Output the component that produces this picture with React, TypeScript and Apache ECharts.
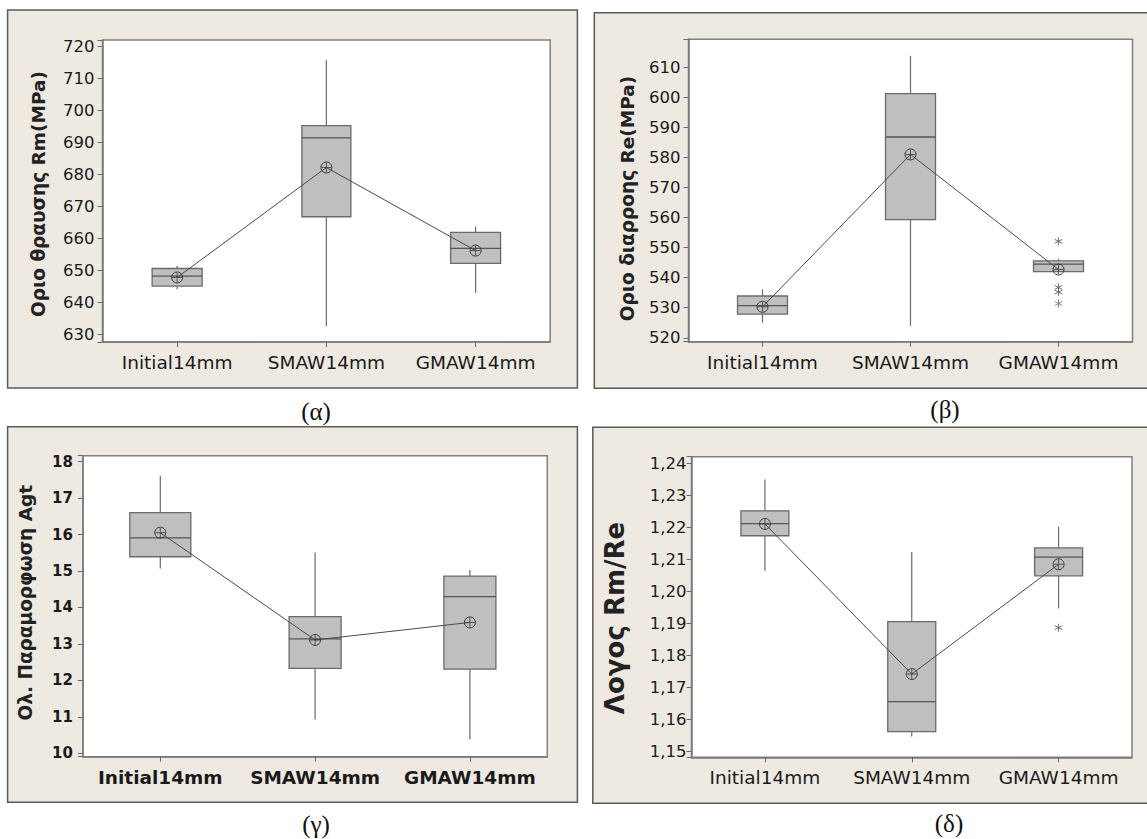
import React, { useEffect, useRef } from 'react';
import * as echarts from 'echarts';

// ---------- data ----------
const categories = ['Initial14mm', 'SMAW14mm', 'GMAW14mm'];

// box entries: [lower whisker, Q1, median, Q3, upper whisker]
const rmBoxes = [
  [644.1, 645.1, 648.2, 650.6, 651.4],
  [632.6, 666.8, 691.5, 695.3, 715.8],
  [643.0, 652.2, 656.9, 661.9, 663.7],
];
const rmMeans = [647.8, 682.2, 656.2];
const rmOutliers: number[][] = [];

const reBoxes = [
  [525.0, 527.9, 530.7, 533.9, 536.1],
  [524.0, 559.3, 586.8, 601.2, 613.8],
  [542.0, 542.0, 544.5, 545.6, 546.3],
];
const reMeans = [530.3, 581.0, 542.7];
// [category index, value]
const reOutliers = [
  [2, 552.1],
  [2, 536.8],
  [2, 535.2],
  [2, 531.4],
];

const agtBoxes = [
  [15.07, 15.39, 15.91, 16.6, 17.61],
  [10.93, 12.33, 13.14, 13.75, 15.51],
  [10.39, 12.31, 14.3, 14.86, 15.03],
];
const agtMeans = [16.05, 13.11, 13.59];
const agtOutliers: number[][] = [];

const ratioBoxes = [
  [1.2065, 1.2174, 1.2212, 1.2252, 1.235],
  [1.1547, 1.1562, 1.1656, 1.1906, 1.2123],
  [1.1947, 1.2049, 1.2107, 1.2136, 1.2202],
];
const ratioMeans = [1.2211, 1.1742, 1.2085];
const ratioOutliers = [[2, 1.1887]];

// axis scales
const rmAxis = { min: 627.6, max: 722.1, step: 10, decimals: 0 };
const reAxis = { min: 518.7, max: 619.3, step: 10, decimals: 0 };
const agtAxis = { min: 9.91, max: 18.16, step: 1, decimals: 0 };
const ratioAxis = { min: 1.1482, max: 1.2421, step: 0.01, decimals: 2 };

const yNames = ['Οριο θραυσης Rm(MPa)', 'Οριο διαρροης Re(MPa)', 'Ολ. Παραμορφωση Agt', 'Λογος Rm/Re'];
const captions = ['(α)', '(β)', '(γ)', '(δ)'];

// ---------- layout / style ----------
const FONT = '"DejaVu Sans", Verdana, sans-serif';
const BG = '#EEEAE1';

const panels = [
  {
    boxes: rmBoxes, means: rmMeans, outliers: rmOutliers, axis: rmAxis, name: yNames[0], caption: captions[0],
    grid: { left: 102.5, top: 40, width: 447.7, height: 302 },
    frame: { x: 7.6, y: 10, width: 569.8, height: 378 },
    cap: { x: 316, y: 411 },
    boxW: [50, 49, 50], bold: false, nameSize: 18.5, nameGap: 55, namePad: [0, 6, 0, 0],
    tickSize: 16.5, catSize: 18.5, yMargin: 8,
  },
  {
    boxes: reBoxes, means: reMeans, outliers: reOutliers, axis: reAxis, name: yNames[1], caption: captions[1],
    grid: { left: 688.5, top: 39.3, width: 444, height: 302.4 },
    frame: { x: 594.3, y: 12.7, width: 600, height: 375.6 },
    cap: { x: 945, y: 409 },
    boxW: [50, 50, 50], bold: false, nameSize: 18.5, nameGap: 52, namePad: [0, 16, 0, 0],
    tickSize: 16.5, catSize: 18.5, yMargin: 8,
  },
  {
    boxes: agtBoxes, means: agtMeans, outliers: agtOutliers, axis: agtAxis, name: yNames[2], caption: captions[2],
    grid: { left: 82.9, top: 455.7, width: 464.4, height: 301 },
    frame: { x: 7.6, y: 426.7, width: 569.8, height: 375.6 },
    cap: { x: 316, y: 824 },
    boxW: [61, 52, 52], bold: true, nameSize: 18.5, nameGap: 48, namePad: [0, 0, 0, 7],
    tickSize: 15, catSize: 18.5, yMargin: 10,
  },
  {
    boxes: ratioBoxes, means: ratioMeans, outliers: ratioOutliers, axis: ratioAxis, name: yNames[3], caption: captions[3],
    grid: { left: 691.5, top: 456.7, width: 440.5, height: 300.6 },
    frame: { x: 592.8, y: 427.3, width: 600, height: 376 },
    cap: { x: 949, y: 823 },
    boxW: [48, 48, 48], bold: false, nameSize: 26, nameGap: 64, namePad: [0, 22, 0, 0],
    tickSize: 16.5, catSize: 18.5, yMargin: 5,
  },
];

const PLUS = 'path://M-0.5,-5L0.5,-5L0.5,5L-0.5,5Z M-5,-0.5L5,-0.5L5,0.5L-5,0.5Z';
const STAR =
  'path://M-0.5,-5L0.5,-5L0.5,5L-0.5,5Z M4.08,-2.933L4.58,-2.067L-4.08,2.933L-4.58,2.067Z M-4.58,-2.067L-4.08,-2.933L4.58,2.067L4.08,2.933Z';

function buildOption() {
  const grid: any[] = [];
  const xAxis: any[] = [];
  const yAxis: any[] = [];
  const series: any[] = [];
  const graphic: any[] = [];

  panels.forEach((p, i) => {
    graphic.push({
      type: 'rect',
      z: -10,
      shape: { ...p.frame },
      style: { fill: BG, stroke: '#5a5a5a', lineWidth: 1.5 },
    });
    graphic.push({
      type: 'text',
      z: -10,
      x: p.cap.x,
      y: p.cap.y,
      style: {
        text: p.caption,
        fontFamily: '"Liberation Serif", "Times New Roman", serif',
        fontSize: 25,
        fill: '#111',
        align: 'center',
        verticalAlign: 'middle',
      },
    });

    grid.push({
      ...p.grid,
      show: true,
      backgroundColor: '#ffffff',
      borderColor: '#808080',
      borderWidth: 1.5,
    });

    xAxis.push({
      type: 'category',
      gridIndex: i,
      data: categories,
      boundaryGap: true,
      axisLine: { show: true, lineStyle: { color: '#7a7a7a', width: 1.5 } },
      axisTick: { show: true, alignWithLabel: true, interval: 0, length: 5, lineStyle: { color: '#6a6a6a' } },
      axisLabel: {
        interval: 0,
        margin: 11,
        fontFamily: FONT,
        fontSize: p.catSize,
        fontWeight: p.bold ? 'bold' : 'normal',
        color: '#1a1a1a',
      },
      splitLine: { show: false },
    });

    const ax = p.axis;
    yAxis.push({
      type: 'value',
      gridIndex: i,
      min: ax.min,
      max: ax.max,
      minInterval: ax.step,
      maxInterval: ax.step,
      splitNumber: 10,
      name: p.name,
      nameLocation: 'middle',
      nameGap: p.nameGap,
      nameTextStyle: {
        fontFamily: FONT,
        fontWeight: 'bold',
        fontSize: p.nameSize,
        color: '#222',
        padding: p.namePad,
      },
      axisLine: { show: true, lineStyle: { color: '#7a7a7a', width: 1.5 } },
      axisTick: { show: true, length: 5, lineStyle: { color: '#6a6a6a' } },
      axisLabel: {
        margin: p.yMargin,
        showMinLabel: true,
        showMaxLabel: true,
        fontFamily: FONT,
        fontSize: p.tickSize,
        fontWeight: p.bold ? 'bold' : 'normal',
        color: '#1a1a1a',
        formatter: (v: number) => {
          const k = v / ax.step;
          if (Math.abs(k - Math.round(k)) > 1e-6) return '';
          return v.toFixed(ax.decimals).replace('.', ',');
        },
      },
      splitLine: { show: false },
    });

    const boxW = p.boxW;
    series.push({
      type: 'custom',
      xAxisIndex: i,
      yAxisIndex: i,
      silent: true,
      z: 2,
      encode: { x: 0, y: [1, 2, 3, 4, 5] },
      data: p.boxes.map((b, j) => [j, ...b]),
      renderItem: (params: any, api: any) => {
        const idx = api.value(0);
        const pLow = api.coord([idx, api.value(1)]);
        const pQ1 = api.coord([idx, api.value(2)]);
        const pMed = api.coord([idx, api.value(3)]);
        const pQ3 = api.coord([idx, api.value(4)]);
        const pHigh = api.coord([idx, api.value(5)]);
        const cx = pMed[0];
        const w = boxW[idx];
        const lineStyle = { stroke: '#6a6a6a', lineWidth: 1.2 };
        return {
          type: 'group',
          children: [
            { type: 'line', shape: { x1: cx, y1: pQ1[1], x2: cx, y2: pLow[1] }, style: lineStyle },
            { type: 'line', shape: { x1: cx, y1: pQ3[1], x2: cx, y2: pHigh[1] }, style: lineStyle },
            {
              type: 'rect',
              shape: { x: cx - w / 2, y: pQ3[1], width: w, height: pQ1[1] - pQ3[1] },
              style: { fill: '#bfbfbf', stroke: '#6a6a6a', lineWidth: 1.3 },
            },
            {
              type: 'line',
              shape: { x1: cx - w / 2, y1: pMed[1], x2: cx + w / 2, y2: pMed[1] },
              style: { stroke: '#555', lineWidth: 1.3 },
            },
          ],
        };
      },
    });

    series.push({
      type: 'line',
      xAxisIndex: i,
      yAxisIndex: i,
      silent: true,
      z: 3,
      data: p.means,
      symbol: 'circle',
      symbolSize: 11,
      showSymbol: true,
      itemStyle: { color: 'rgba(0,0,0,0)', borderColor: '#3a3a3a', borderWidth: 1 },
      lineStyle: { color: '#4a4a4a', width: 1 },
    });

    series.push({
      type: 'scatter',
      xAxisIndex: i,
      yAxisIndex: i,
      silent: true,
      z: 4,
      symbol: PLUS,
      symbolSize: 10,
      itemStyle: { color: '#3a3a3a' },
      data: p.means.map((m, j) => [j, m]),
    });

    if (p.outliers.length) {
      series.push({
        type: 'scatter',
        xAxisIndex: i,
        yAxisIndex: i,
        silent: true,
        z: 4,
        symbol: STAR,
        symbolSize: 8,
        itemStyle: { color: '#444' },
        data: p.outliers,
      });
    }
  });

  return {
    animation: false,
    backgroundColor: '#ffffff',
    grid,
    xAxis,
    yAxis,
    series,
    graphic: { elements: graphic },
  };
}

export default function App() {
  const ref = useRef<HTMLDivElement>(null);
  useEffect(() => {
    if (!ref.current) return;
    const chart = echarts.init(ref.current, undefined, { renderer: 'svg' });
    chart.setOption(buildOption() as any);
    return () => chart.dispose();
  }, []);
  return (
    <div
      ref={ref}
      style={{ position: 'fixed', left: 0, top: 0, width: 1147, height: 839 }}
    />
  );
}
